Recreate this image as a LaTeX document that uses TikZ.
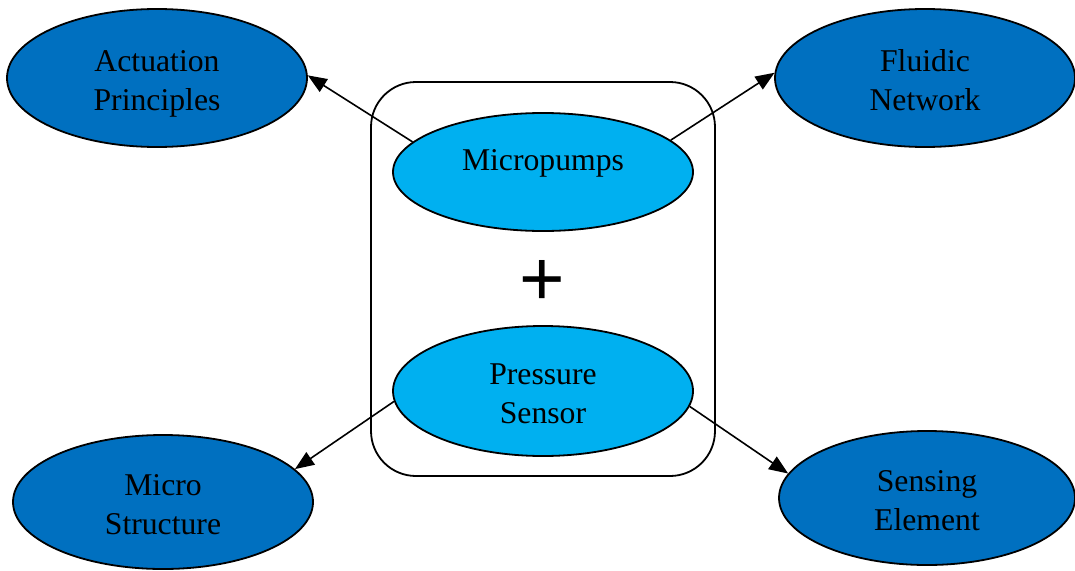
\documentclass[tikz,border=0pt]{standalone}
\usepackage{fontspec}
\setmainfont{Liberation Serif}
\newfontfamily\plusfont{Liberation Sans}
\usetikzlibrary{shapes.geometric,arrows.meta}
\definecolor{outerblue}{HTML}{0070C0}
\definecolor{innerblue}{HTML}{00B0F0}
\begin{document}
\begin{tikzpicture}[x=1pt,y=-1pt,
  topic/.style={ellipse,draw=black,line width=1.8pt,inner sep=0pt,
    align=center,font=\fontsize{31.7}{39}\selectfont},
  twoline/.style={text height=64pt,text depth=0pt},
  outertopic/.style={topic,twoline,fill=outerblue,minimum width=300pt,minimum height=138pt},
  innertopic/.style={topic,fill=innerblue,minimum width=300pt},
  link/.style={line width=1.6pt,-{Triangle[length=19pt,width=15pt]}}]
  \useasboundingbox (0,0) rectangle (1075,570);

  % grouping frame around the two central topics
  \draw[line width=1.8pt,rounded corners=45pt] (371,82) rectangle (715,476);
  \node[innertopic,minimum height=118pt,text height=22pt,text depth=26pt] (mp) at (543,172) {Micropumps};
  \node[innertopic,twoline,minimum height=130pt] (ps) at (543,391) {Pressure\\Sensor};
  \node[font=\plusfont\fontsize{78}{78}\selectfont,inner sep=0pt] (plus) at (542,283) {+};

  % surrounding topics
  \node[outertopic] (act) at (157,78) {Actuation\\Principles};
  \node[outertopic] (flu) at (925,78) {Fluidic\\Network};
  \node[outertopic,minimum height=134pt] (mic) at (163,502) {Micro\\Structure};
  \node[outertopic,minimum height=134pt,minimum width=296pt] (sen) at (927,498) {Sensing\\Element};

  % connectors
  \draw[link] (mp.167) -- (act.1);
  \draw[link] (mp.14) -- (flu.178);
  \draw[link] (ps.184) -- (mic.14);
  \draw[link] (ps.-6) -- (sen.170);
\end{tikzpicture}
\end{document}
